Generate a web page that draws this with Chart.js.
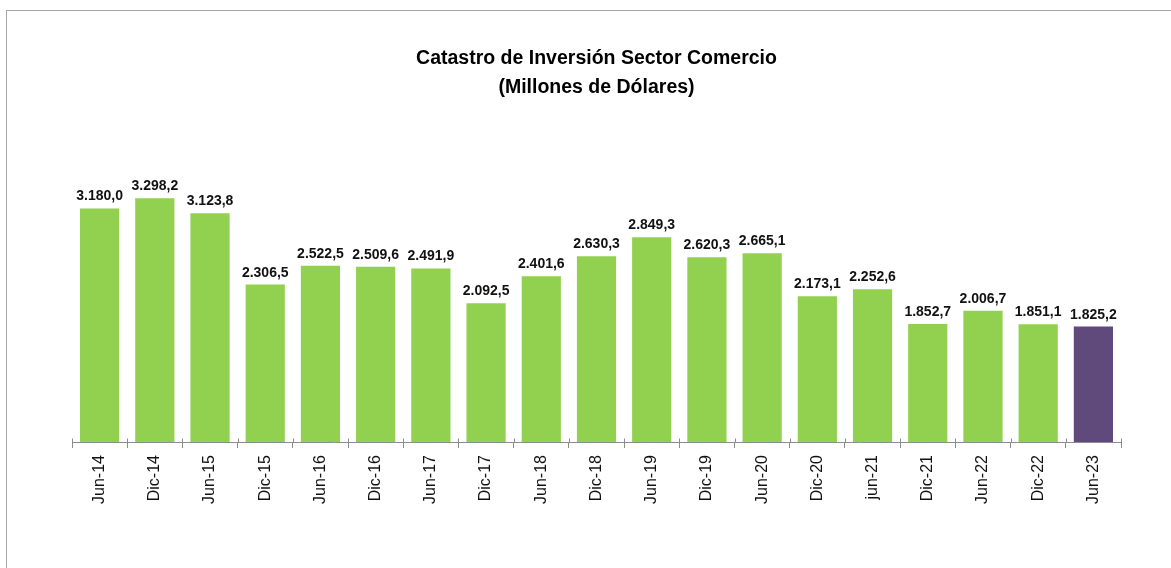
<!DOCTYPE html>
<html>
<head>
<meta charset="utf-8">
<script src="https://cdn.jsdelivr.net/npm/chart.js@4/dist/chart.umd.min.js"></script>
<style>
  html, body { margin: 0; padding: 0; background: #fff; overflow: hidden; }
  #wrap { position: relative; width: 1171px; height: 568px; }
</style>
</head>
<body>
<div id="wrap"><canvas id="chart" width="1171" height="568"></canvas></div>
<script>
// Data
const periods = ['Jun-14', 'Dic-14', 'Jun-15', 'Dic-15', 'Jun-16', 'Dic-16', 'Jun-17', 'Dic-17', 'Jun-18',
    'Dic-18', 'Jun-19', 'Dic-19', 'Jun-20', 'Dic-20', 'jun-21', 'Dic-21', 'Jun-22', 'Dic-22', 'Jun-23'];
const investment = [3180.0, 3298.2, 3123.8, 2306.5, 2522.5, 2509.6, 2491.9, 2092.5, 2401.6,
    2630.3, 2849.3, 2620.3, 2665.1, 2173.1, 2252.6, 1852.7, 2006.7, 1851.1, 1825.2];
const titleLines = ['Catastro de Inversión Sector Comercio', '(Millones de Dólares)'];

const GREEN = '#92D050';
const PURPLE = '#604A7B';
const AXIS_GRAY = '#8c8c8c';

// 3180.0 -> "3.180,0"
const formatEs = (num) => {
    const [intPart, dec] = Number(num).toFixed(1).split('.');
    return intPart.replace(/\B(?=(\d{3})+(?!\d))/g, '.') + ',' + dec;
};

const barColors = investment.map((_, i) => i === investment.length - 1 ? PURPLE : GREEN);

// frame around the chart like the Excel chart border
const framePlugin = {
    id: 'frame',
    beforeDraw(chart) {
        const ctx = chart.ctx;
        ctx.save();
        ctx.strokeStyle = '#a6a6a6';
        ctx.lineWidth = 1;
        ctx.strokeRect(6.5, 10.5, 1300, 700);
        ctx.restore();
    }
};

// Excel style "cross" tick marks: the part above the axis line
const crossTicks = {
    id: 'crossTicks',
    afterDraw(chart) {
        const x = chart.scales.x;
        const ctx = chart.ctx;
        const yAxis = Math.round(chart.chartArea.bottom) + 0.5;
        ctx.save();
        ctx.strokeStyle = AXIS_GRAY;
        ctx.lineWidth = 1;
        ctx.beginPath();
        for (let i = 0; i <= periods.length; i++) {
            const px = Math.round(x.getPixelForValue(i - 0.5)) + 0.5;
            ctx.moveTo(px, yAxis - 4);
            ctx.lineTo(px, yAxis);
        }
        ctx.stroke();
        ctx.restore();
    }
};

// value labels above each bar
const valueLabels = {
    id: 'valueLabels',
    afterDatasetsDraw(chart) {
        const ctx = chart.ctx;
        const meta = chart.getDatasetMeta(0);
        ctx.save();
        ctx.font = 'bold 14px "Liberation Sans", Arial, sans-serif';
        ctx.fillStyle = '#111';
        ctx.textAlign = 'center';
        ctx.textBaseline = 'alphabetic';
        meta.data.forEach((bar, i) => {
            ctx.fillText(formatEs(investment[i]), bar.x, bar.y - 8);
        });
        ctx.restore();
    }
};

new Chart(document.getElementById('chart').getContext('2d'), {
    type: 'bar',
    data: {
        labels: periods,
        datasets: [{
            data: investment,
            backgroundColor: barColors,
            borderWidth: 0,
            barPercentage: 0.71,
            categoryPercentage: 1.0
        }]
    },
    options: {
        responsive: false,
        animation: false,
        devicePixelRatio: 1,
        layout: { padding: { left: 72, right: 50, top: 11, bottom: 50 } },
        plugins: {
            legend: { display: false },
            tooltip: { enabled: false },
            title: {
                display: true,
                text: titleLines,
                color: '#000',
                font: { family: '"Liberation Sans", Arial, sans-serif', size: 19.5, weight: 'bold', lineHeight: 1.487 },
                padding: { top: 33.5, bottom: 34.5 }
            }
        },
        scales: {
            x: {
                offset: true,
                grid: {
                    offset: true,
                    drawOnChartArea: false,
                    drawTicks: true,
                    tickLength: 6,
                    tickColor: AXIS_GRAY
                },
                border: { display: true, color: AXIS_GRAY, width: 1 },
                ticks: {
                    autoSkip: false,
                    minRotation: 90,
                    maxRotation: 90,
                    padding: 7,
                    color: '#111',
                    font: { family: '"Liberation Sans", Arial, sans-serif', size: 16 }
                },
                afterFit: (scale) => { scale.height = 76; }
            },
            y: {
                display: false,
                min: 500,
                max: 4000
            }
        }
    },
    plugins: [framePlugin, crossTicks, valueLabels]
});
</script>
</body>
</html>
